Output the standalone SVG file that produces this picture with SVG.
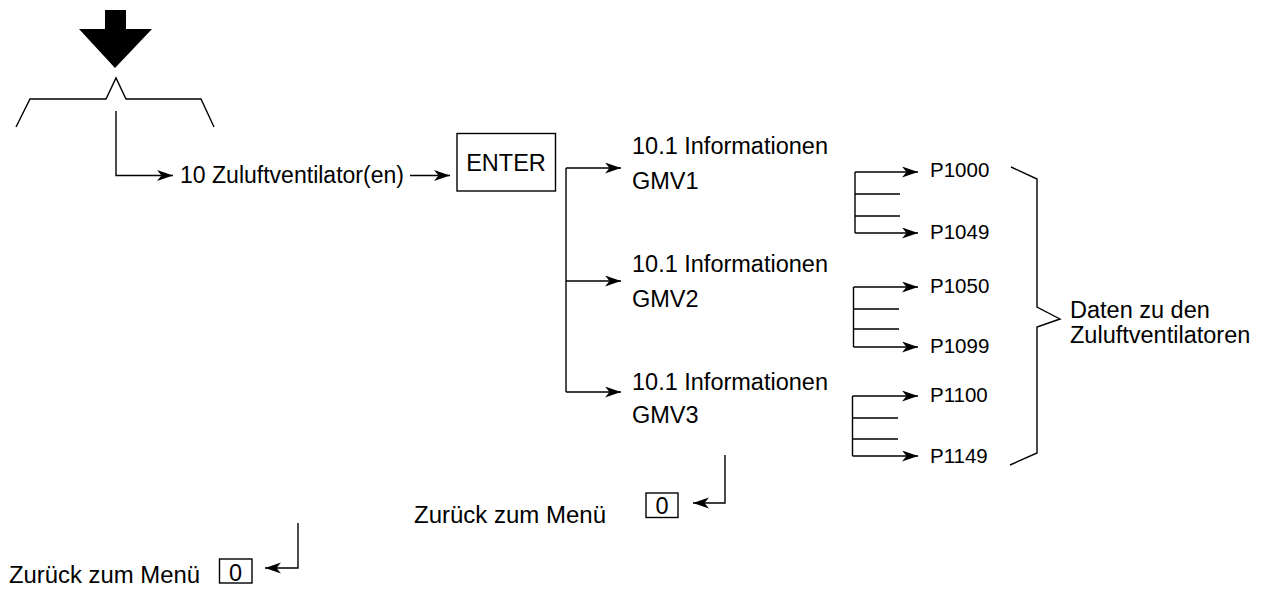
<svg xmlns="http://www.w3.org/2000/svg" width="1262" height="590" viewBox="0 0 1262 590">
  <style>
    .ln { fill: none; stroke: #000; stroke-width: 1.4; }
    .arr { fill: none; stroke: #000; stroke-width: 1.4; marker-end: url(#head); }
    .t { font-family: "Liberation Sans", Arial, sans-serif; font-size: 23.5px; fill: #000; }
    .p { font-family: "Liberation Sans", Arial, sans-serif; font-size: 20.5px; fill: #000; }
    .box { fill: #fff; stroke: #000; stroke-width: 1.4; }
  </style>
  <defs>
    <marker id="head" markerUnits="userSpaceOnUse" markerWidth="18" markerHeight="12" refX="16" refY="5.5" orient="auto">
      <path d="M0,0 L16,5.5 L0,11 L4.5,5.5 z" fill="#000"/>
    </marker>
  </defs>
  <rect width="1262" height="590" fill="#fff"/>

  <!-- entry arrow and menu tab -->
  <g id="entry">
    <polygon points="105,10 126,10 126,29 152,29 115,68 79,29 105,29" fill="#000"/>
    <path class="ln" d="M16,127 L30,99 H106 L116,78 L126,99 H201 L214,127"/>
  </g>

  <!-- connectors -->
  <g id="connectors">
    <path class="arr" d="M116,111 V175.5 H173"/>
    <path class="arr" d="M410,175.5 H450"/>
    <path class="ln" d="M566,168 V392"/>
    <path class="arr" d="M566,168 H621"/>
    <path class="arr" d="M566,281 H621"/>
    <path class="arr" d="M566,392 H621"/>
    <!-- parameter group 1 -->
    <path class="ln" d="M855,172 V233 M855,194 H900 M855,216 H900"/>
    <path class="arr" d="M855,172 H918"/>
    <path class="arr" d="M855,233 H918"/>
    <!-- parameter group 2 -->
    <path class="ln" d="M853.5,287 V347 M853.5,309 H899 M853.5,329 H899"/>
    <path class="arr" d="M853.5,287 H918"/>
    <path class="arr" d="M853.5,347 H918"/>
    <!-- parameter group 3 -->
    <path class="ln" d="M852.5,396 V456 M852.5,418 H898 M852.5,439 H898"/>
    <path class="arr" d="M852.5,396 H918"/>
    <path class="arr" d="M852.5,456 H918"/>
    <!-- brace -->
    <path class="ln" d="M1011,167 L1037,179 V307 L1060,319 L1037,327 V453 L1010,465"/>
    <!-- back arrows -->
    <path class="arr" d="M725,455 V503 H693"/>
    <path class="arr" d="M298,523 V568 H265"/>
  </g>

  <g id="node-zuluft">
    <text class="t" x="180" y="183" textLength="224" lengthAdjust="spacingAndGlyphs">10 Zuluftventilator(en)</text>
  </g>
  <g id="node-enter">
    <rect class="box" x="457" y="133.5" width="98.5" height="57.5"/>
    <text class="t" x="506" y="170.5" text-anchor="middle">ENTER</text>
  </g>
  <g id="node-gmv1">
    <text class="t" x="632" y="154">10.1 Informationen</text>
    <text class="t" x="632" y="189">GMV1</text>
  </g>
  <g id="node-gmv2">
    <text class="t" x="632" y="272">10.1 Informationen</text>
    <text class="t" x="632" y="307">GMV2</text>
  </g>
  <g id="node-gmv3">
    <text class="t" x="632" y="390">10.1 Informationen</text>
    <text class="t" x="632" y="423">GMV3</text>
  </g>
  <g id="params-1">
    <text class="p" x="930" y="177">P1000</text>
    <text class="p" x="930" y="239">P1049</text>
  </g>
  <g id="params-2">
    <text class="p" x="930" y="293">P1050</text>
    <text class="p" x="930" y="353">P1099</text>
  </g>
  <g id="params-3">
    <text class="p" x="930" y="402">P1100</text>
    <text class="p" x="930" y="463">P1149</text>
  </g>
  <g id="node-daten">
    <text class="t" x="1070" y="318">Daten zu den</text>
    <text class="t" x="1070" y="343">Zuluftventilatoren</text>
  </g>
  <g id="back-1">
    <text class="t" x="414" y="523" textLength="192" lengthAdjust="spacingAndGlyphs">Zurück zum Menü</text>
    <rect class="box" x="646" y="493" width="32" height="24.5"/>
    <text class="t" x="662" y="514" text-anchor="middle">0</text>
  </g>
  <g id="back-2">
    <text class="t" x="9" y="583" textLength="191" lengthAdjust="spacingAndGlyphs">Zurück zum Menü</text>
    <rect class="box" x="219.5" y="559" width="32.5" height="24"/>
    <text class="t" x="235.5" y="580.5" text-anchor="middle">0</text>
  </g>
</svg>
